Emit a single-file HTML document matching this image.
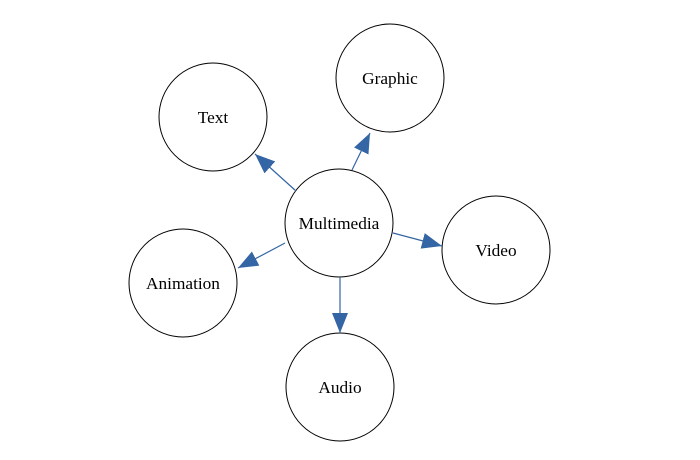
<!DOCTYPE html>
<html><head><style>body{margin:0;background:#fff}svg{display:block}</style></head><body>
<svg width="700" height="460" viewBox="0 0 700 460" xmlns="http://www.w3.org/2000/svg">
<defs><marker id="a" markerWidth="20" markerHeight="16" refX="20" refY="8" orient="auto" markerUnits="userSpaceOnUse"><path d="M0,0 L20,8 L0,16 Z" fill="#3465a4"/></marker></defs>
<g fill="none" stroke="#000" stroke-width="1">
<circle cx="339" cy="223" r="54"/>
<circle cx="213" cy="117" r="54"/>
<circle cx="390" cy="78" r="54"/>
<circle cx="496" cy="250" r="54"/>
<circle cx="183" cy="283" r="54"/>
<circle cx="340" cy="387" r="54"/>
</g>
<g stroke="#3465a4" stroke-width="1.2" marker-end="url(#a)">
<line x1="296" y1="191" x2="255" y2="154"/>
<line x1="352" y1="170" x2="370" y2="133"/>
<line x1="393" y1="233" x2="442" y2="246"/>
<line x1="285" y1="243" x2="238" y2="268"/>
<line x1="340" y1="277" x2="340" y2="333"/>
</g>
<g font-family="Liberation Serif, serif" font-size="17.3" text-anchor="middle" fill="#000">
<text x="339" y="229">Multimedia</text>
<text x="213" y="123">Text</text>
<text x="390" y="84">Graphic</text>
<text x="496" y="256">Video</text>
<text x="183" y="289">Animation</text>
<text x="340" y="393">Audio</text>
</g>
</svg>
</body></html>
